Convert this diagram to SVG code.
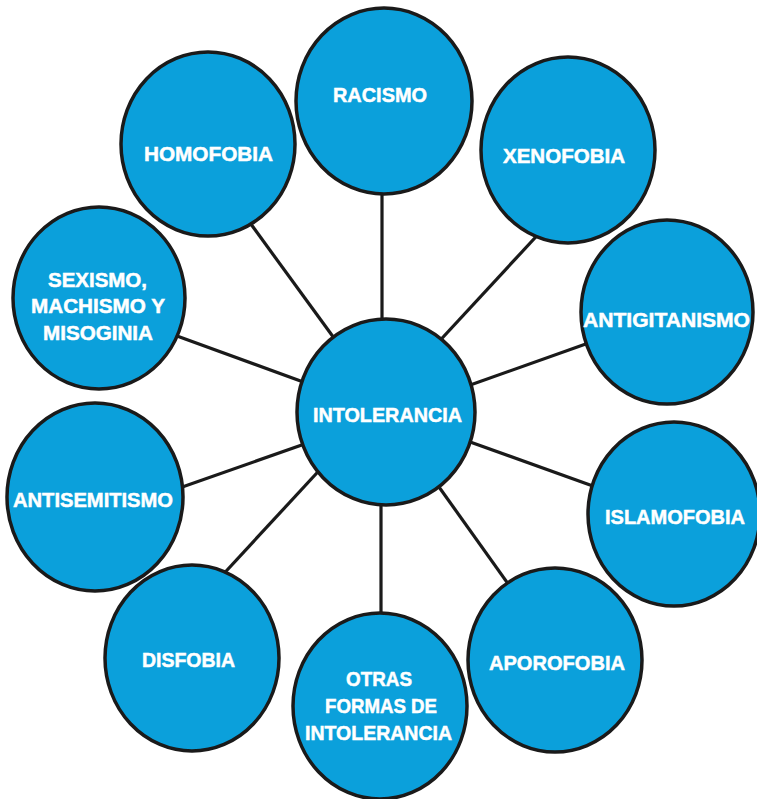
<svg xmlns="http://www.w3.org/2000/svg" width="757" height="799" viewBox="0 0 757 799">
<style>
.bg{fill:#ffffff}
.conn line{stroke:#1a1a1a;stroke-width:3.2;stroke-linecap:butt}
.node ellipse{fill:#0BA0DB;stroke:#1a1a1a;stroke-width:3.5}
.node text{fill:#ffffff;stroke:#ffffff;stroke-width:0.5;font-family:"Liberation Sans",Arial,sans-serif;font-weight:bold;font-size:20px}
</style>
<rect class="bg" x="0" y="0" width="757" height="799"/>
<g id="connectors" class="conn">
<line x1="382" y1="180" x2="382" y2="345"/>
<line x1="433" y1="348" x2="545" y2="227"/>
<line x1="459" y1="389" x2="597" y2="340"/>
<line x1="459" y1="438" x2="604" y2="490"/>
<line x1="434" y1="480" x2="514" y2="592"/>
<line x1="381" y1="485" x2="381" y2="625"/>
<line x1="327" y1="462" x2="217" y2="581"/>
<line x1="316" y1="440" x2="168" y2="492"/>
<line x1="317" y1="387" x2="166" y2="332"/>
<line x1="342" y1="349" x2="245" y2="216"/>
</g>
<g id="racismo" class="node">
<ellipse cx="384" cy="101" rx="88" ry="93"/>
<text x="333" y="102" textLength="94" lengthAdjust="spacingAndGlyphs">RACISMO</text>
</g>
<g id="homofobia" class="node">
<ellipse cx="208" cy="144" rx="87" ry="92"/>
<text x="144" y="161" textLength="129" lengthAdjust="spacingAndGlyphs">HOMOFOBIA</text>
</g>
<g id="xenofobia" class="node">
<ellipse cx="568" cy="150" rx="87" ry="93"/>
<text x="503" y="163" textLength="122" lengthAdjust="spacingAndGlyphs">XENOFOBIA</text>
</g>
<g id="antigitanismo" class="node">
<ellipse cx="667" cy="312" rx="86" ry="92"/>
<text x="583" y="327" textLength="167" lengthAdjust="spacingAndGlyphs">ANTIGITANISMO</text>
</g>
<g id="islamofobia" class="node">
<ellipse cx="674" cy="514" rx="86" ry="92"/>
<text x="605" y="524" textLength="140" lengthAdjust="spacingAndGlyphs">ISLAMOFOBIA</text>
</g>
<g id="aporofobia" class="node">
<ellipse cx="555" cy="660" rx="87" ry="92"/>
<text x="489" y="670" textLength="136" lengthAdjust="spacingAndGlyphs">APOROFOBIA</text>
</g>
<g id="otras" class="node">
<ellipse cx="380" cy="706" rx="87" ry="93"/>
<text x="346" y="686" textLength="66" lengthAdjust="spacingAndGlyphs">OTRAS</text>
<text x="325" y="713" textLength="112" lengthAdjust="spacingAndGlyphs">FORMAS DE</text>
<text x="305" y="740" textLength="147" lengthAdjust="spacingAndGlyphs">INTOLERANCIA</text>
</g>
<g id="disfobia" class="node">
<ellipse cx="192" cy="658" rx="87" ry="93"/>
<text x="142" y="667" textLength="93" lengthAdjust="spacingAndGlyphs">DISFOBIA</text>
</g>
<g id="antisemitismo" class="node">
<ellipse cx="95" cy="497" rx="88" ry="94"/>
<text x="13" y="507" textLength="160" lengthAdjust="spacingAndGlyphs">ANTISEMITISMO</text>
</g>
<g id="sexismo" class="node">
<ellipse cx="99" cy="298" rx="86" ry="91"/>
<text x="48" y="287" textLength="99" lengthAdjust="spacingAndGlyphs">SEXISMO,</text>
<text x="31" y="313" textLength="134" lengthAdjust="spacingAndGlyphs">MACHISMO Y</text>
<text x="43" y="340" textLength="110" lengthAdjust="spacingAndGlyphs">MISOGINIA</text>
</g>
<g id="intolerancia" class="node">
<ellipse cx="386" cy="412" rx="89" ry="93"/>
<text x="313" y="422" textLength="149" lengthAdjust="spacingAndGlyphs">INTOLERANCIA</text>
</g>
</svg>
